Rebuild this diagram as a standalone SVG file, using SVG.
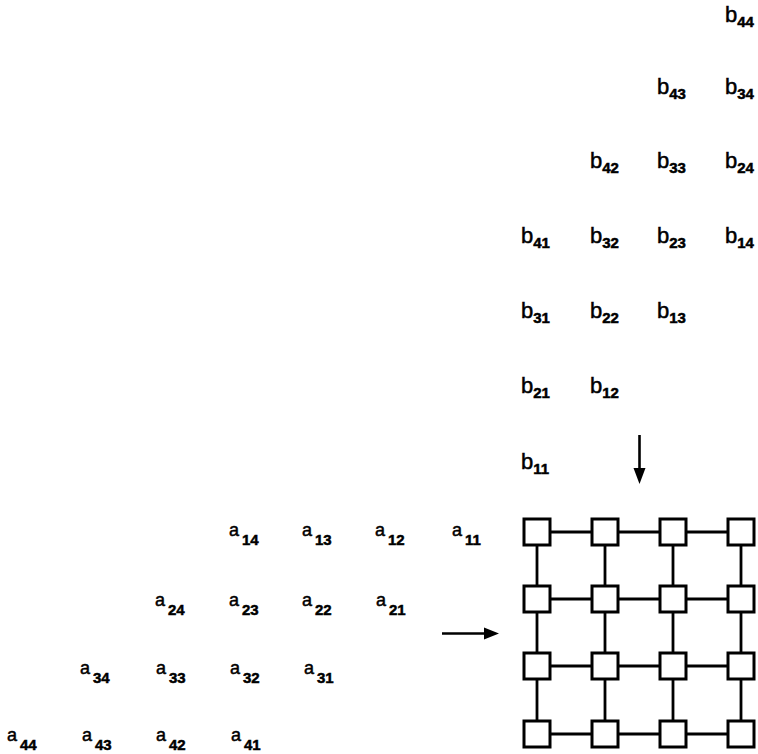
<svg xmlns="http://www.w3.org/2000/svg" width="758" height="754" viewBox="0 0 758 754">
<style>
.pe{fill:#fff;stroke:#000;stroke-width:3}
.ln{stroke:#000;stroke-width:2.8;fill:none}
.ar{stroke:#000;stroke-width:2.6;fill:none}
.hd{fill:#000;stroke:none}
.lb{font-family:"Liberation Sans",Arial,sans-serif;fill:#000;stroke:#000;stroke-width:0.5}
.b{font-size:22px}
.a{font-size:18px}
.s{font-size:15px;font-weight:bold}
</style>
<rect width="758" height="754" fill="#fff"/>
<g id="connectors">
<path class="ln" d="M537,532H741M537,599H741M537,666H741M537,734H741M537,532V734M605,532V734M673,532V734M741,532V734"/>
<line class="ar" x1="442" y1="633.5" x2="486" y2="633.5"/>
<path class="hd" d="M484,627.5 L499,633.5 L484,639.5 Z"/>
<line class="ar" x1="639.5" y1="435" x2="639.5" y2="470"/>
<path class="hd" d="M633.5,468 L639.5,484 L645.5,468 Z"/>
</g>
<g id="array">
<g id="pe11"><rect class="pe" x="524" y="519" width="26" height="26"/></g>
<g id="pe12"><rect class="pe" x="592" y="519" width="26" height="26"/></g>
<g id="pe13"><rect class="pe" x="660" y="519" width="26" height="26"/></g>
<g id="pe14"><rect class="pe" x="728" y="519" width="26" height="26"/></g>
<g id="pe21"><rect class="pe" x="524" y="586" width="26" height="26"/></g>
<g id="pe22"><rect class="pe" x="592" y="586" width="26" height="26"/></g>
<g id="pe23"><rect class="pe" x="660" y="586" width="26" height="26"/></g>
<g id="pe24"><rect class="pe" x="728" y="586" width="26" height="26"/></g>
<g id="pe31"><rect class="pe" x="524" y="653" width="26" height="26"/></g>
<g id="pe32"><rect class="pe" x="592" y="653" width="26" height="26"/></g>
<g id="pe33"><rect class="pe" x="660" y="653" width="26" height="26"/></g>
<g id="pe34"><rect class="pe" x="728" y="653" width="26" height="26"/></g>
<g id="pe41"><rect class="pe" x="524" y="721" width="26" height="26"/></g>
<g id="pe42"><rect class="pe" x="592" y="721" width="26" height="26"/></g>
<g id="pe43"><rect class="pe" x="660" y="721" width="26" height="26"/></g>
<g id="pe44"><rect class="pe" x="728" y="721" width="26" height="26"/></g>
</g>
<g id="b-labels" class="lb">
<g id="b44"><text class="b" x="725" y="22">b<tspan class="s" dy="5">44</tspan></text></g>
<g id="b43"><text class="b" x="657" y="94">b<tspan class="s" dy="5">43</tspan></text></g>
<g id="b34"><text class="b" x="725" y="94">b<tspan class="s" dy="5">34</tspan></text></g>
<g id="b42"><text class="b" x="590" y="168">b<tspan class="s" dy="5">42</tspan></text></g>
<g id="b33"><text class="b" x="657" y="168">b<tspan class="s" dy="5">33</tspan></text></g>
<g id="b24"><text class="b" x="725" y="168">b<tspan class="s" dy="5">24</tspan></text></g>
<g id="b41"><text class="b" x="521" y="243">b<tspan class="s" dy="5">41</tspan></text></g>
<g id="b32"><text class="b" x="590" y="243">b<tspan class="s" dy="5">32</tspan></text></g>
<g id="b23"><text class="b" x="657" y="243">b<tspan class="s" dy="5">23</tspan></text></g>
<g id="b14"><text class="b" x="725" y="243">b<tspan class="s" dy="5">14</tspan></text></g>
<g id="b31"><text class="b" x="521" y="318">b<tspan class="s" dy="5">31</tspan></text></g>
<g id="b22"><text class="b" x="590" y="318">b<tspan class="s" dy="5">22</tspan></text></g>
<g id="b13"><text class="b" x="657" y="318">b<tspan class="s" dy="5">13</tspan></text></g>
<g id="b21"><text class="b" x="521" y="393">b<tspan class="s" dy="5">21</tspan></text></g>
<g id="b12"><text class="b" x="590" y="393">b<tspan class="s" dy="5">12</tspan></text></g>
<g id="b11"><text class="b" x="521" y="469">b<tspan class="s" dy="5">11</tspan></text></g>
</g>
<g id="a-labels" class="lb">
<g id="a14"><text class="a" x="229" y="536">a<tspan class="s" dx="3" dy="9">14</tspan></text></g>
<g id="a13"><text class="a" x="302" y="536">a<tspan class="s" dx="3" dy="9">13</tspan></text></g>
<g id="a12"><text class="a" x="375" y="536">a<tspan class="s" dx="3" dy="9">12</tspan></text></g>
<g id="a11"><text class="a" x="452" y="536">a<tspan class="s" dx="3" dy="9">11</tspan></text></g>
<g id="a24"><text class="a" x="155" y="606">a<tspan class="s" dx="3" dy="9">24</tspan></text></g>
<g id="a23"><text class="a" x="229" y="606">a<tspan class="s" dx="3" dy="9">23</tspan></text></g>
<g id="a22"><text class="a" x="302" y="606">a<tspan class="s" dx="3" dy="9">22</tspan></text></g>
<g id="a21"><text class="a" x="376" y="606">a<tspan class="s" dx="3" dy="9">21</tspan></text></g>
<g id="a34"><text class="a" x="80" y="674">a<tspan class="s" dx="3" dy="9">34</tspan></text></g>
<g id="a33"><text class="a" x="156" y="674">a<tspan class="s" dx="3" dy="9">33</tspan></text></g>
<g id="a32"><text class="a" x="230" y="674">a<tspan class="s" dx="3" dy="9">32</tspan></text></g>
<g id="a31"><text class="a" x="304" y="674">a<tspan class="s" dx="3" dy="9">31</tspan></text></g>
<g id="a44"><text class="a" x="7" y="741">a<tspan class="s" dx="3" dy="9">44</tspan></text></g>
<g id="a43"><text class="a" x="82" y="741">a<tspan class="s" dx="3" dy="9">43</tspan></text></g>
<g id="a42"><text class="a" x="156" y="741">a<tspan class="s" dx="3" dy="9">42</tspan></text></g>
<g id="a41"><text class="a" x="231" y="741">a<tspan class="s" dx="3" dy="9">41</tspan></text></g>
</g>
</svg>
